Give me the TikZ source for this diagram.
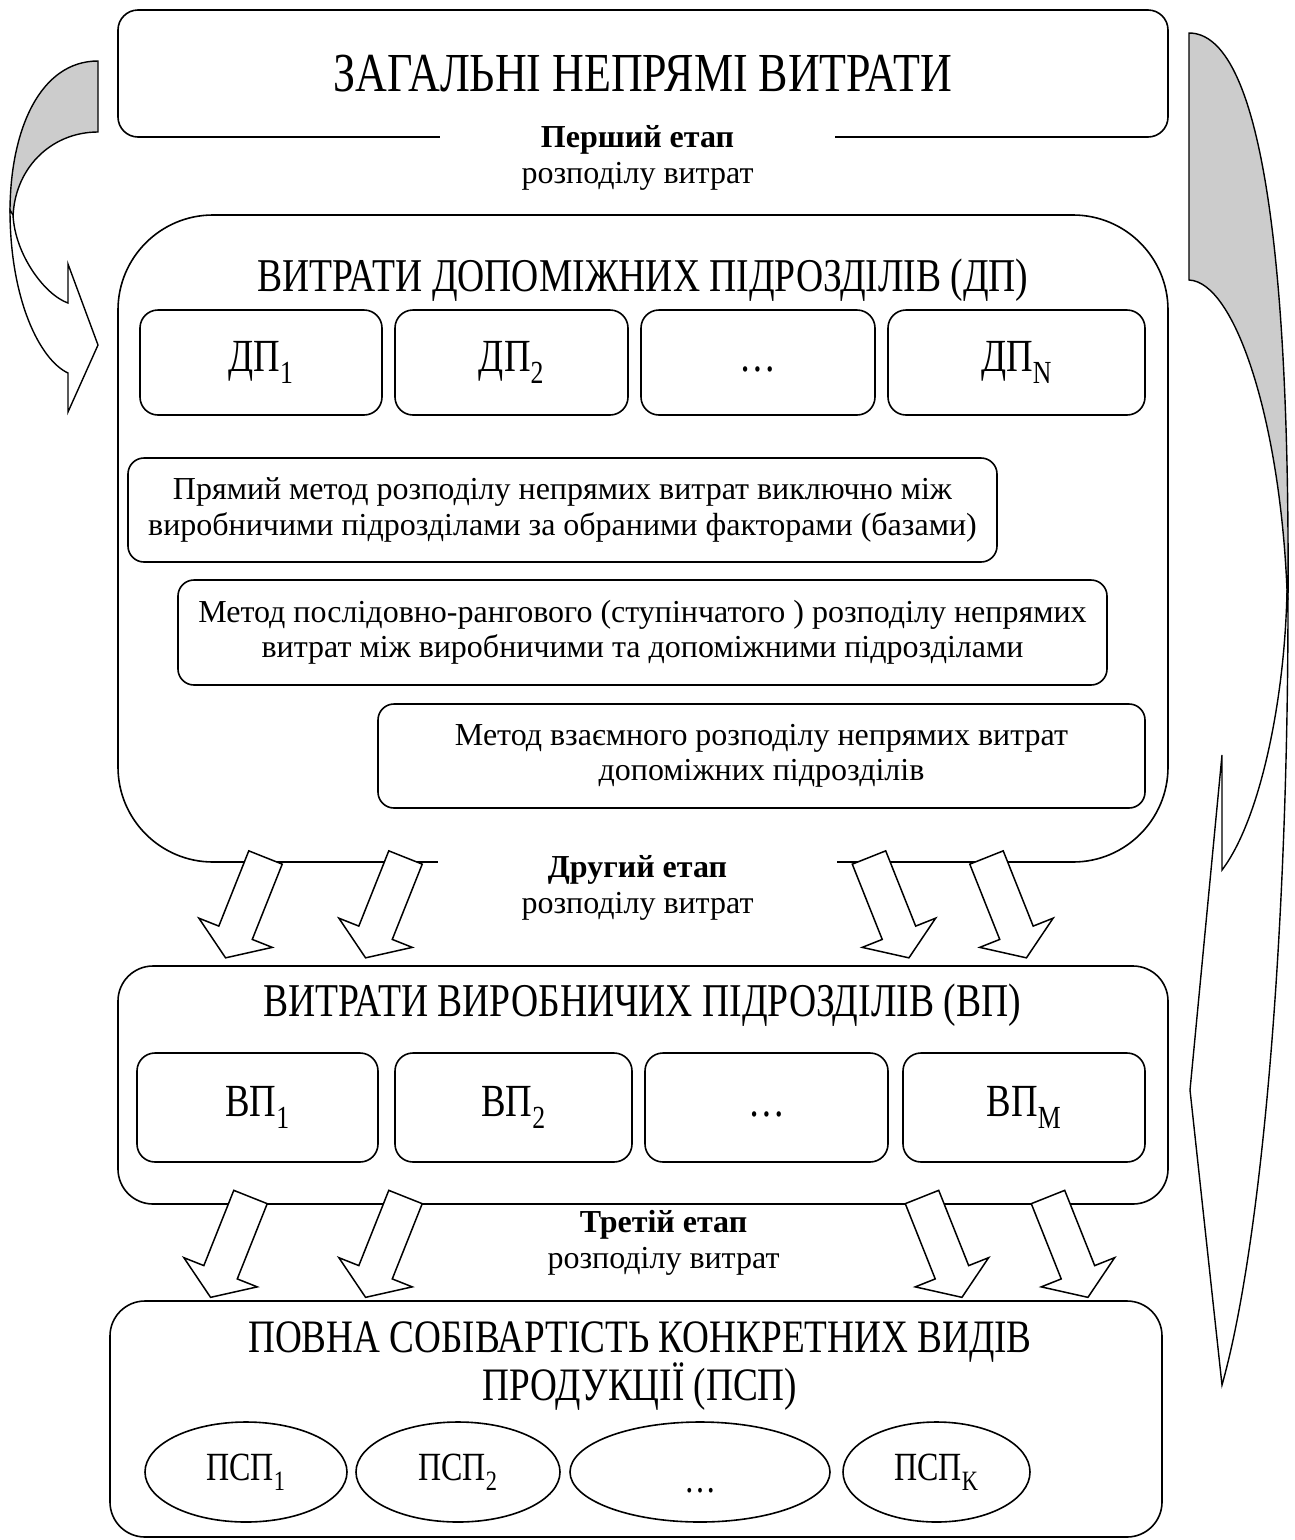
\documentclass[tikz,border=0pt]{standalone}
\usepackage{fontspec}
\setmainfont{Liberation Serif}
\newfontfamily\condfont[FakeStretch=0.8]{Liberation Serif}
\usetikzlibrary{shapes.geometric}
\begin{document}
\begin{tikzpicture}[x=1pt,y=-1pt,line width=1.6pt,line join=miter,
  bigframe/.style={draw, inner sep=0pt, rounded corners=#1},
  cell/.style={draw, rounded corners=18pt, inner sep=0pt, align=center,
    font=\condfont\fontsize{46}{52}\selectfont},
  dotscell/.style={cell, text height=6pt, text depth=0pt},
  method/.style={draw, rounded corners=16pt, inner sep=0pt, align=center,
    font=\fontsize{32}{35.5}\selectfont},
  oval/.style={draw, ellipse, inner sep=0pt, font=\condfont\fontsize{40}{46}\selectfont},
  headline/.style={inner sep=0pt, align=center},
  stagelabel/.style={fill=white, inner sep=0pt, minimum height=60pt, align=center,
    font=\fontsize{32}{35.5}\selectfont},
  bandback/.style={draw, fill=gray!40, line width=1.4pt},
  bandfront/.style={draw, fill=white, line width=1.4pt},
  barrow/.pic={\draw[fill=white, line width=1.5pt]
    (-18,0) -- (18,0) -- (18,81) -- (39.5,81) -- (0,108) -- (-39.5,81) -- (-18,81) -- cycle;}
]
\useasboundingbox (0,0) rectangle (1295,1540);

% --- main frames ---
\node[bigframe=20pt, minimum width=1050pt, minimum height=127pt,
  font=\condfont\fontsize{55}{60}\selectfont] (top) at (643,73.5) {ЗАГАЛЬНІ НЕПРЯМІ ВИТРАТИ};
\node[bigframe=95pt, minimum width=1050pt, minimum height=647pt] (dp) at (643,538.5) {};
\node[bigframe=35pt, minimum width=1050pt, minimum height=238pt] (vp) at (643,1085) {};
\node[bigframe=35pt, minimum width=1052pt, minimum height=236pt] (psp) at (636,1419) {};

% --- support units ---
\node[headline, font=\condfont\fontsize{47}{52}\selectfont] (dptitle) at (643,280)
  {ВИТРАТИ ДОПОМІЖНИХ ПІДРОЗДІЛІВ (ДП)};
\node[cell, minimum width=242pt, minimum height=105pt] (dp1) at (261,362.5) {ДП\textsubscript{1}};
\node[cell, minimum width=233pt, minimum height=105pt] (dp2) at (511.5,362.5) {ДП\textsubscript{2}};
\node[dotscell, minimum width=234pt, minimum height=105pt] (dp3) at (758,362.5) {\raisebox{-6pt}{…}};
\node[cell, minimum width=257pt, minimum height=105pt] (dp4) at (1016.5,362.5) {ДП\textsubscript{N}};

\node[method, minimum width=869pt, minimum height=104pt] (m1) at (562.5,510)
  {Прямий метод розподілу непрямих витрат виключно між\\
   виробничими підрозділами за обраними факторами (базами)};
\node[method, minimum width=929pt, minimum height=105pt] (m2) at (642.5,632.5)
  {Метод послідовно-рангового (ступінчатого ) розподілу непрямих\\
   витрат між виробничими та допоміжними підрозділами};
\node[method, minimum width=767pt, minimum height=104pt] (m3) at (761.5,756)
  {Метод взаємного розподілу непрямих витрат\\
   допоміжних підрозділів};

% --- production units ---
\node[headline, font=\condfont\fontsize{47}{52}\selectfont] (vptitle) at (642,1005)
  {ВИТРАТИ ВИРОБНИЧИХ ПІДРОЗДІЛІВ (ВП)};
\node[cell, minimum width=241pt, minimum height=109pt] (vp1) at (257.5,1107.5) {ВП\textsubscript{1}};
\node[cell, minimum width=237pt, minimum height=109pt] (vp2) at (513.5,1107.5) {ВП\textsubscript{2}};
\node[dotscell, minimum width=243pt, minimum height=109pt] (vp3) at (766.5,1107.5) {\raisebox{-6pt}{…}};
\node[cell, minimum width=242pt, minimum height=109pt] (vp4) at (1024,1107.5) {ВП\textsubscript{M}};

% --- full product cost ---
\node[headline, font=\condfont\fontsize{46.5}{43}\selectfont] (psptitle) at (640,1366)
  {ПОВНА СОБІВАРТІСТЬ КОНКРЕТНИХ ВИДІВ\\ПРОДУКЦІЇ (ПСП)};
\node[oval, minimum width=202pt, minimum height=100pt] (e1) at (246,1472) {ПСП\textsubscript{1}};
\node[oval, minimum width=204pt, minimum height=100pt] (e2) at (458,1472) {ПСП\textsubscript{2}};
\node[oval, minimum width=260pt, minimum height=100pt, text height=40pt, text depth=0pt]
  (e3) at (700,1472) {…};
\node[oval, minimum width=187pt, minimum height=100pt] (e4) at (936.5,1472) {ПСП\textsubscript{K}};

% --- stage captions breaking the lower frame edges ---
\node[stagelabel, minimum width=395pt] (stage1) at (637.5,158)
  {\textbf{Перший етап}\\розподілу витрат};
\node[stagelabel, minimum width=399pt] (stage2) at (637.5,888)
  {\textbf{Другий етап}\\розподілу витрат};
\node[stagelabel, minimum width=397pt] (stage3) at (663.5,1243)
  {\textbf{Третій етап}\\розподілу витрат};

% --- curved arrow on the left ---
\path[bandback] (98,61) -- (98,132) .. controls (50,132) and (13,170) .. (13,220)
  -- (10,212) .. controls (10,130) and (40,61) .. (98,61) -- cycle;
\path[bandfront] (10,210) .. controls (10,300) and (40,360) .. (68,373)
  -- (68,412) -- (98,345) -- (68,264) -- (68,303)
  .. controls (45,295) and (15,255) .. (13,215) -- cycle;

% --- curved arrow on the right ---
\path[bandback] (1189,33) -- (1189,280) .. controls (1235,282) and (1280,420) .. (1287,590)
  -- (1288,600) .. controls (1290,250) and (1260,33) .. (1189,33) -- cycle;
\path[bandfront] (1287,590) .. controls (1285,700) and (1260,820) .. (1222,870)
  -- (1222,755) -- (1190,1090) -- (1222,1385)
  .. controls (1260,1250) and (1288,950) .. (1288,600) -- cycle;

% --- block arrows between the stages ---
\pic[rotate=-21.7] at (265.5,857.5) {barrow};
\pic[rotate=-21.7] at (405.5,857.5) {barrow};
\pic[rotate=21.7] at (869,857.5) {barrow};
\pic[rotate=21.7] at (986.5,857.5) {barrow};
\pic[rotate=-21.7] at (250.5,1197) {barrow};
\pic[rotate=-21.7] at (405.5,1197) {barrow};
\pic[rotate=21.7] at (922,1197) {barrow};
\pic[rotate=21.7] at (1048,1197) {barrow};
\end{tikzpicture}
\end{document}
